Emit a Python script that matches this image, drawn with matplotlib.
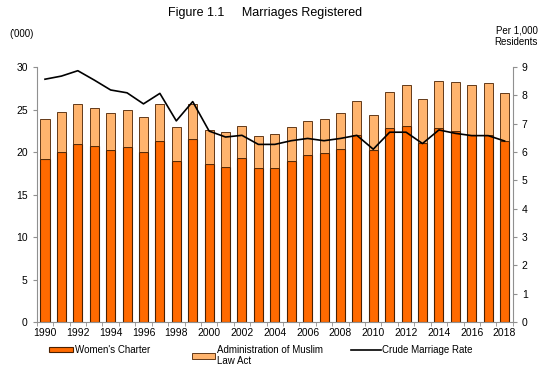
import matplotlib
matplotlib.use("Agg")
from matplotlib import pyplot as plt
import numpy as np

plt.rcParams['font.family'] = ['Liberation Sans', 'DejaVu Sans']

# data ('000 marriages, rate per 1,000 residents)
years = list(range(1990, 2019))
womens_charter = [19.2, 20.0, 21.0, 20.7, 20.2, 20.55, 20.0, 21.3, 18.9, 21.5,
                  18.55, 18.3, 19.25, 18.1, 18.1, 19.0, 19.7, 19.85, 20.35, 22.0,
                  20.2, 22.8, 23.05, 21.1, 22.85, 22.5, 21.95, 22.0, 21.3]
total = [23.9, 24.7, 25.7, 25.2, 24.6, 24.9, 24.1, 25.6, 23.0, 25.6,
         22.55, 22.3, 23.1, 21.9, 22.1, 22.9, 23.65, 23.9, 24.55, 26.0,
         24.3, 27.1, 27.85, 26.2, 28.3, 28.2, 27.9, 28.1, 26.9]
muslim_law = [t - w for t, w in zip(total, womens_charter)]
crude_rate = [8.57, 8.68, 8.87, 8.54, 8.19, 8.09, 7.7, 8.07, 7.1, 7.78,
              6.74, 6.53, 6.59, 6.27, 6.27, 6.4, 6.48, 6.4, 6.48, 6.59,
              6.1, 6.7, 6.7, 6.3, 6.78, 6.66, 6.58, 6.58, 6.39]
left_ticks = [0, 5, 10, 15, 20, 25, 30]
right_ticks = list(range(0, 10))

dark = '#ff6a00'
light = '#ffb46e'
edge = '#4a2000'
spine_col = '#909090'

fig = plt.figure(figsize=(5.49, 3.83), dpi=100)
ax = fig.add_axes([0.067, 0.159, 0.867, 0.666])
x = np.arange(len(years))

b1 = ax.bar(x, womens_charter, width=0.55, color=dark, edgecolor=edge, linewidth=0.8)
b2 = ax.bar(x, muslim_law, width=0.55, bottom=womens_charter, color=light,
            edgecolor=edge, linewidth=0.6)

ax.set_xlim(-0.5, len(years) - 0.5)
ax.set_ylim(0, 30)
ax.set_yticks(left_ticks)
ax.set_xticks(x[::2])
ax.set_xticklabels([str(y) for y in years[::2]])
ax.set_xticks(np.arange(-0.5, len(years)), minor=True)
ax.tick_params(axis='x', which='major', length=0, labelsize=7.5, pad=4)
ax.tick_params(axis='x', which='minor', length=3, color=spine_col)
ax.tick_params(axis='y', length=3, color=spine_col, labelsize=7.5)
for s in ['top', 'right']:
    ax.spines[s].set_visible(False)
for s in ['left', 'bottom']:
    ax.spines[s].set_color(spine_col)

ax2 = ax.twinx()
line, = ax2.plot(x, crude_rate, color='black', linewidth=1.2)
ax2.set_ylim(0, 9)
ax2.set_yticks(right_ticks)
ax2.tick_params(axis='y', length=3, color=spine_col, labelsize=7.5)
for s in ['top', 'left', 'bottom']:
    ax2.spines[s].set_visible(False)
ax2.spines['right'].set_color(spine_col)

fig.text(0.483, 0.965, 'Figure 1.1     Marriages Registered', ha='center', va='center', fontsize=9)
fig.text(0.017, 0.91, "('000)", ha='left', va='center', fontsize=7)
fig.text(0.98, 0.905, 'Per 1,000\nResidents', ha='right', va='center', fontsize=7, linespacing=1.2)

leg_kw = dict(frameon=False, fontsize=7, handleheight=0.45,
              handletextpad=0.2, loc='upper left', borderaxespad=0, borderpad=0)
fig.legend([b1], ["Women's Charter"], bbox_to_anchor=(0.09, 0.1), handlelength=2.4, **leg_kw)
fig.legend([b2], ['Administration of Muslim\nLaw Act'], bbox_to_anchor=(0.35, 0.1),
           handlelength=2.4, **leg_kw)
fig.legend([line], ['Crude Marriage Rate'], bbox_to_anchor=(0.64, 0.1), handlelength=3.0, **leg_kw)

fig.savefig('out.png', dpi=100)
